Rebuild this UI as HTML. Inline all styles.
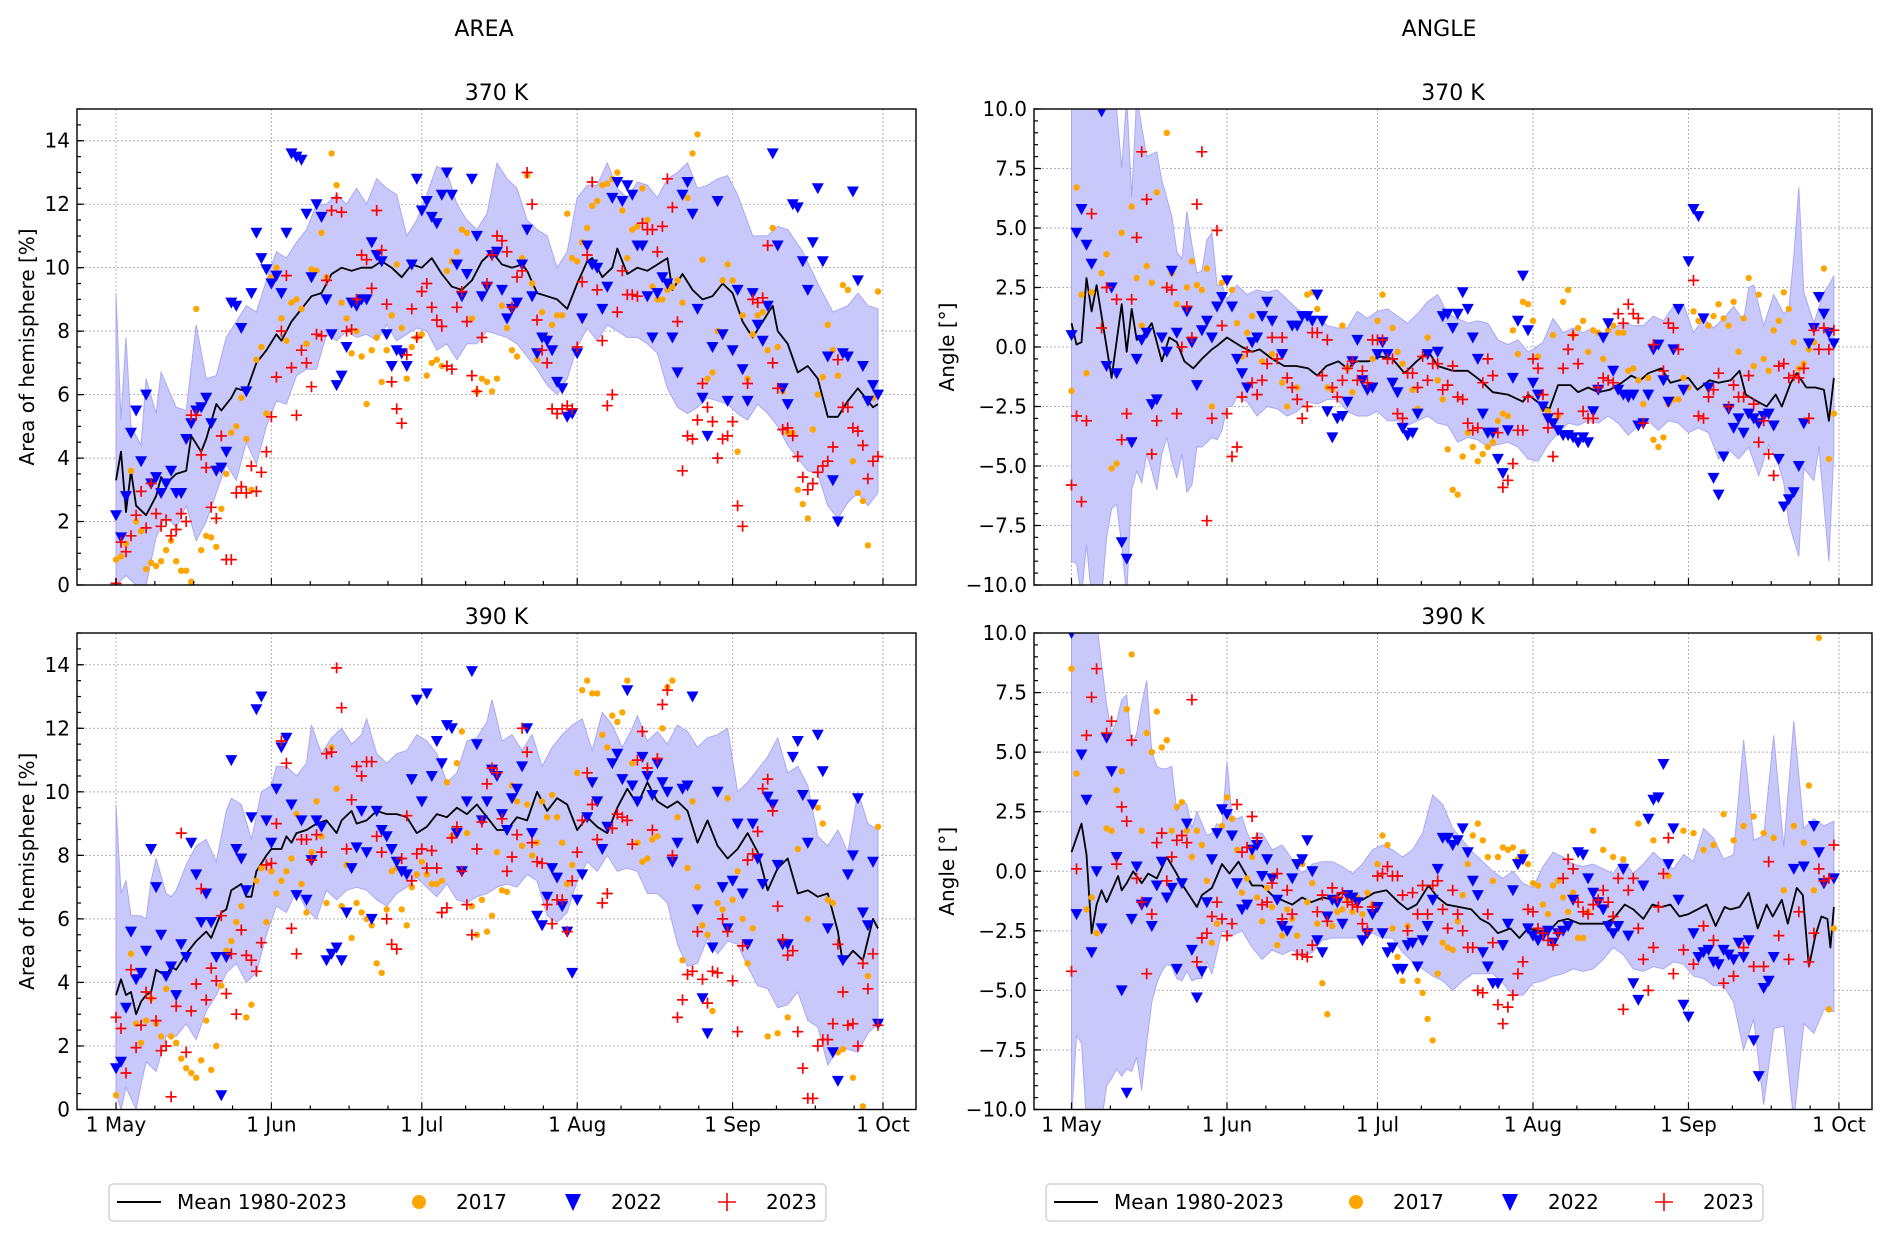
<!DOCTYPE html>
<html><head><meta charset="utf-8">
<style>
html,body{margin:0;padding:0;background:#fff;}
svg{display:block;font-family:"DejaVu Sans","Liberation Sans",sans-serif;}
</style></head>
<body>
<svg id="chart" width="1892" height="1241" viewBox="0 0 1892 1241" xmlns="http://www.w3.org/2000/svg">
<rect width="1892" height="1241" fill="#fff"/>
<text x="484" y="36" font-size="22" text-anchor="middle">AREA</text>
<text x="1439" y="36" font-size="22" text-anchor="middle">ANGLE</text>
<g id="panels"></g>
<g>
<rect x="109" y="1184" width="717" height="37" rx="4" fill="#fff" stroke="#ccc" stroke-width="1.3"/>
<line x1="117" y1="1202" x2="161" y2="1202" stroke="#000" stroke-width="2"/>
<text x="177" y="1209" font-size="20">Mean 1980-2023</text>
<circle cx="419" cy="1202" r="7" fill="#ffa500"/>
<text x="456" y="1209" font-size="20">2017</text>
<path d="M565,1194 L581,1194 L573,1211 Z" fill="#0000ff"/>
<text x="611" y="1209" font-size="20">2022</text>
<path d="M718,1202 h18 M727,1193 v18" stroke="#ff0000" stroke-width="1.6"/>
<text x="766" y="1209" font-size="20">2023</text>
</g>
<g>
<rect x="1046" y="1184" width="717" height="37" rx="4" fill="#fff" stroke="#ccc" stroke-width="1.3"/>
<line x1="1054" y1="1202" x2="1098" y2="1202" stroke="#000" stroke-width="2"/>
<text x="1114" y="1209" font-size="20">Mean 1980-2023</text>
<circle cx="1356" cy="1202" r="7" fill="#ffa500"/>
<text x="1393" y="1209" font-size="20">2017</text>
<path d="M1502,1194 L1518,1194 L1510,1211 Z" fill="#0000ff"/>
<text x="1548" y="1209" font-size="20">2022</text>
<path d="M1655,1202 h18 M1664,1193 v18" stroke="#ff0000" stroke-width="1.6"/>
<text x="1703" y="1209" font-size="20">2023</text>
</g>
</svg>
<script>
// ---------- shared axis data ----------
const monthDays = [0, 31, 61, 92, 123, 153];
const monthLabels = ["1 May", "1 Jun", "1 Jul", "1 Aug", "1 Sep", "1 Oct"];
const areaTicks = [0, 2, 4, 6, 8, 10, 12, 14];
const angleTicks = [-10, -7.5, -5, -2.5, 0, 2.5, 5, 7.5, 10];

// ---------- Top-left: AREA 370 K ----------
const tlUpper = [[0,9.2],[1,5.2],[2,7.8],[3,5],[5,4.4],[6,6.5],[8,5.4],[9,6.7],[12,5.6],[14,5.5],[16,8.2],[18,6.5],[20,6.6],[22,7.8],[24,8.3],[26,8.8],[28,8.6],[30,9.6],[32,10.5],[34,10.3],[36,10.8],[38,11.2],[40,12],[42,12],[44,12.3],[46,12],[48,12.5],[50,12],[52,12.8],[54,12.5],[56,12.3],[58,11],[60,11.5],[62,12.3],[64,13.2],[66,13],[68,12],[70,11.5],[72,11.2],[74,11.7],[76,13.3],[78,12.8],[80,12.5],[82,11.5],[84,11.2],[86,11],[88,10],[90,10.5],[92,12.2],[94,12.6],[96,12.6],[98,13.3],[100,12.5],[102,12.2],[104,12.7],[106,12.6],[108,12.2],[110,12.8],[112,13],[114,13.3],[116,12.5],[118,12.6],[120,12.8],[122,12.9],[124,12.3],[127,11],[130,11],[132,11.3],[134,11.2],[137,10.5],[140,9.5],[143,8.6],[146,8.8],[148,9.2],[150,8.8],[152,8.7]];
const tlLower = [[0,0],[2,0.3],[4,0],[6,0],[8,1.5],[10,2.2],[12,1.8],[14,2.5],[16,1.4],[18,2],[20,2.9],[22,3.8],[24,3.3],[26,4.5],[28,3.8],[30,5],[32,5.8],[34,5.7],[36,6.6],[38,6.8],[40,6.8],[42,7.9],[44,7.7],[46,8],[48,7.8],[50,7.9],[52,7.7],[54,8.2],[56,7.7],[58,7.9],[60,8.1],[62,8],[64,7.4],[66,7.6],[68,7.1],[70,7.6],[72,7.6],[74,8],[76,7.9],[78,7.8],[80,7.6],[82,7.2],[84,6.8],[86,6.3],[88,6],[90,6.5],[92,7.5],[94,8.1],[96,7.7],[98,8.2],[100,8],[102,7.8],[104,7.8],[106,7.6],[108,7.3],[110,6.2],[112,5.6],[114,5.4],[116,5.6],[118,5.9],[120,5.8],[122,5.7],[124,5.4],[126,5.2],[128,5.7],[130,5.4],[132,5],[134,4.4],[136,4],[138,3.6],[140,3.5],[142,2.5],[144,2.1],[146,2.6],[148,2.9],[150,2.5],[152,2.9]];
const tlMean = [[0,3.3],[1,4.2],[2,2.3],[3,3.6],[4,2.5],[6,2.2],[8,2.8],[9,3.4],[10,3.2],[12,3.5],[14,3.6],[15,4.7],[17,4.2],[18,4.6],[20,5.7],[21,5.5],[23,5.9],[24,6.2],[26,6.1],[28,7],[30,7.4],[32,7.9],[33,7.7],[35,8.3],[37,8.7],[39,9.1],[41,9.2],[43,9.8],[45,10],[47,9.9],[49,10],[51,10],[53,10.2],[55,10],[57,9.7],[59,10.1],[61,10],[63,10.3],[65,9.8],[67,9.4],[69,9.3],[71,9.6],[73,10.2],[75,10.5],[77,10.1],[79,10],[81,10.1],[82,9.9],[84,9.2],[86,9.1],[88,9],[90,8.7],[92,9.5],[94,10.2],[95,10.3],[97,9.7],[99,10],[100,10.6],[102,9.8],[104,10],[106,9.9],[108,10.1],[110,10.3],[111,9.3],[113,9.8],[115,9.3],[117,9],[119,9.1],[121,9.5],[123,9.2],[125,8.3],[127,7.8],[129,8.3],[131,8.8],[132,8],[134,7.6],[136,6.7],[138,6.9],[140,6.5],[142,5.3],[144,5.3],[146,5.8],[148,6.2],[149,6],[150,5.8],[151,5.6],[152,5.7]];
const tl2017 = [0.8,0.9,1.3,3.6,2,1.7,0.5,0.7,0.6,0.75,1.1,1.4,0.75,0.45,0.45,0.1,8.7,1.1,1.55,1.5,1.2,2.4,3.5,4.8,5,5.9,4.6,3,7.1,7.5,5.4,9.7,10,8.4,7.7,8.9,9,8.7,7.6,9.95,9.9,11.1,9.7,13.6,12.6,8.9,8.4,7.3,8,7.2,5.7,7.4,7.8,6.4,7.4,8.5,10.1,8.1,6.5,7.5,7.8,7.9,6.6,7,7.1,6.9,9.9,10.2,10.5,11.2,11.1,8.4,6.1,6.5,6.4,6.1,6.5,8.8,8.1,7.4,7.2,10.3,12.9,9.5,7.1,8.6,7.8,8.2,8.5,8.5,11.7,10.3,10.2,10.8,11.25,11.95,12.1,12.6,12.65,12.8,13,11.8,10.3,11.2,11.3,12.5,11.5,9.4,9,9,9.3,9.4,9.6,8.9,12.2,13.6,14.2,10.25,6.5,6.7,8,9.6,10.1,9.6,4.2,8.5,6.5,7.9,8.5,8.6,7.4,11.25,7.5,6.1,4.8,4.8,3,2.55,2.1,4.9,6,6.55,8.2,7.4,6.6,9.45,9.3,3.9,2.9,2.65,1.25,5.9,9.25];
const tl2022 = [2.2,1.5,2.8,4.8,5.5,3.9,6,3.2,3.4,2.9,3.2,3.6,2.9,2.9,4.6,5.1,5.5,5.6,5.9,5.1,3.6,3.7,4.2,8.9,8.8,8.1,6.1,9.2,11.1,10.3,9.95,9.5,9.75,9.2,11.1,13.6,13.5,13.4,11.7,9.7,12,11.6,9,7.9,6.3,6.6,7.5,8.9,8.8,9,9,10.8,10.4,10.2,7.9,6.9,7.4,7.3,6.9,10.1,12.8,11.8,12.1,11.6,11.4,12.3,13,12.3,10.1,9.1,9.8,12.8,11,9.1,9.4,10.4,10.5,9.3,8.4,8.7,8.9,10.1,11.2,9.1,7.3,7.8,7.7,7.4,6.4,6.2,5.3,5.4,7.3,8.4,10.7,10.1,10,8.7,9.4,12.2,12.7,12.1,12.6,12.3,10.7,10.7,9.1,7.8,9.2,9.7,9.5,7.8,6.7,12.3,12.7,11.7,8.7,5.9,4.7,7.5,12.1,7.9,5.8,7.4,9.3,6.8,5.8,9.2,8.2,7.7,8.8,13.6,10.7,6.2,5.7,12,11.9,10.2,9.3,10.8,12.5,10.2,7.2,3.3,2,7.3,7.2,12.4,9.6,6.9,5.8,6.3,6];
const tl2023 = [0.05,1.35,1.05,1.55,2.2,2.95,1.8,3.2,2.25,1.85,2.05,1.55,1.75,2.25,2,5.35,5.35,4.1,3.7,2.45,2.1,4.7,0.8,0.8,2.9,3.1,2.9,3.75,2.95,3.55,4.2,5.3,6.55,8,9.75,6.85,5.35,7.4,7,6.25,7.9,7.85,9.6,11.8,12.2,11.75,8,8.05,9,10.4,10.25,9.35,11.8,10.55,8.85,6.4,5.55,5.1,7.25,8.7,7.8,9.25,9.5,8.75,8.35,8.15,6.9,6.8,8.75,9.25,8.3,6.6,6.1,7.8,9.5,10.4,11,10.85,10.5,8.75,9.7,9.9,13,12,8.35,7.4,7,5.55,5.4,5.55,5.65,5.55,7.5,9.55,10.4,12.7,9.3,7.7,5.65,6,8.6,9.9,9.15,9.15,9.1,11.4,11.2,11.2,10.5,11.3,12.8,11.9,8.3,3.6,4.7,4.6,5.2,6.35,5.6,5.15,4,4.6,4.7,5.15,2.5,1.85,6.35,9,8.9,9.05,10.7,7,6.2,4.9,4.95,4.7,4.05,3.4,3,3.2,3.55,3.75,3.9,4.35,7.1,5.6,5.6,4.95,4.85,4.4,3.35,3.9,4.05];

// ---------- Bottom-left: AREA 390 K ----------
const blUpper = [[0,9.6],[1,6.8],[2,7.2],[3,6.1],[5,6.1],[6,6],[7,7.2],[8,7.9],[10,6.8],[11,6.7],[12,6.9],[14,7.7],[16,8.3],[18,8.5],[20,7.8],[22,9.4],[23,9.8],[25,9.6],[27,8.5],[29,10],[31,10.2],[32,10.8],[34,10.8],[36,10.5],[38,10.9],[39,12.1],[41,11.2],[43,11.7],[45,12],[47,11.5],[49,11.8],[50,12.3],[52,11.2],[54,10.9],[56,11.2],[58,11.3],[60,11.8],[62,11.6],[64,11.2],[66,10.3],[68,10.6],[70,11.6],[72,11.7],[74,12.2],[75,12.9],[77,11.6],[79,11.8],[81,11.3],[83,11.8],[85,10.8],[87,11.4],[89,11.8],[91,12.1],[93,12.3],[95,11.3],[97,12.5],[99,12.1],[101,11.4],[103,12],[104,12.4],[106,11.6],[108,11.9],[110,11.5],[112,12.1],[114,11.9],[116,11.4],[118,11.7],[120,11.8],[122,12],[124,10],[126,10.3],[128,10.7],[130,11.1],[132,11.7],[134,10.6],[136,10.8],[138,10.2],[140,8.6],[142,8.3],[144,8.8],[146,8.1],[148,10],[150,9],[152,8.8]];
const blLower = [[0,0.5],[1,0],[2,0.7],[4,0],[5,0.8],[6,1.5],[8,1.2],[10,2.3],[12,2.3],[14,2.7],[16,2.2],[18,3.1],[20,3.6],[22,4.3],[24,4.6],[26,4],[28,4.3],[30,5.5],[32,6.4],[34,6.2],[36,6.9],[38,6.3],[40,6],[42,6.9],[44,6.6],[46,6.9],[48,7],[50,6.9],[52,6.6],[54,6.4],[56,6.8],[58,7],[60,7.3],[62,7],[64,6.7],[66,7.1],[68,6.6],[70,6.5],[72,6.7],[74,6.8],[76,7],[78,7.1],[80,7],[82,7.4],[84,7.2],[86,6.1],[88,5.9],[90,6.2],[92,7.2],[94,7.8],[96,7.5],[98,8],[100,7.5],[102,7.6],[104,7.5],[106,6.8],[108,6.8],[110,6.5],[112,5.2],[114,4.5],[116,4.6],[118,5.4],[120,4.9],[122,5.3],[124,5.2],[126,4.5],[128,3.9],[130,3.8],[132,3.2],[134,3.3],[136,3.7],[138,2.8],[140,2.6],[142,1.4],[144,1.9],[146,1.9],[148,1.8],[150,2.4],[152,2.7]];
const blMean = [[0,3.6],[1,4.1],[2,3.6],[3,3.7],[4,3],[5,3.4],[6,3.6],[7,3.7],[8,4.4],[9,4.3],[10,4.2],[11,4.5],[12,4.4],[14,4.9],[16,5.3],[18,5.6],[19,5.4],[21,6.2],[22,6.3],[23,6.9],[25,7.1],[26,6.7],[27,6.7],[28,7.5],[30,8],[31,8.2],[33,8.2],[34,8.6],[35,8.4],[36,8.7],[38,8.8],[40,9],[42,9.1],[44,8.7],[45,9.1],[47,9.4],[48,9],[50,9.1],[52,9.4],[54,9.3],[56,9.3],[58,9.2],[60,8.7],[62,8.9],[64,9.3],[66,9.2],[68,9.5],[70,9.3],[72,9.6],[74,9.2],[76,8.8],[78,8.8],[80,9.2],[82,9.1],[84,10],[86,9.4],[88,9.8],[90,9.6],[92,8.8],[94,9.2],[96,8.9],[98,8.7],[100,9.5],[102,10.1],[104,9.6],[106,10.3],[108,9.7],[110,9.5],[112,9.7],[114,9.4],[116,8.4],[118,9.1],[120,8.3],[122,7.9],[124,8.2],[126,8.7],[128,8.1],[130,6.9],[132,7.6],[134,7.9],[136,6.8],[138,6.9],[140,6.7],[142,6.8],[144,5.6],[145,4.6],[147,5],[149,4.7],[151,6],[152,5.7]];
const bl2017 = [[0,0.45],[1,1.5],[3,4.9],[4,2.7],[5,2.1],[6,2.8],[7,3.5],[8,2.7],[9,2.3],[10,3.8],[11,2.3],[12,2.1],[13,1.6],[14,1.3],[15,1.15],[16,1],[17,1.55],[18,2.8],[19,1.25],[20,2],[21,3.9],[22,5],[23,5.3],[24,5.9],[25,6.4],[26,2.9],[27,3.3],[28,7.2],[29,7.6],[30,5.9],[31,7.5],[32,6.8],[33,7.2],[34,7.5],[35,7.9],[36,9.3],[37,7.1],[38,6.2],[39,8.1],[40,9.7],[41,8.6],[42,6.5],[43,11.4],[44,10.1],[45,6.4],[46,7.7],[47,5.4],[48,6.5],[49,6.2],[50,6],[51,5.8],[52,4.6],[53,4.3],[54,6.3],[55,7.5],[56,7.6],[57,6.3],[58,5.8],[59,7],[60,7.4],[61,7.8],[62,7.4],[63,7.1],[64,7.1],[65,7.2],[66,10.3],[67,8.6],[68,10.9],[69,11.9],[70,8.7],[71,6.4],[72,5.5],[73,6.6],[74,5.6],[75,6.1],[76,8.1],[77,6.9],[78,6.85],[79,10.2],[80,9.7],[81,8.3],[82,9.6],[83,8],[84,8.4],[85,9.7],[86,9.2],[87,9.9],[88,9.2],[89,8.4],[90,7.1],[91,7.7],[92,10.6],[93,13.2],[94,13.5],[95,13.1],[96,13.1],[97,11.8],[98,11.4],[99,12.4],[100,12.2],[101,12.5],[102,13.5],[103,10.9],[104,8.4],[105,7.8],[106,7.9],[107,8.5],[108,8.6],[109,12],[110,13.3],[111,13.5],[112,9.2],[113,4.7],[114,7.6],[115,9.7],[116,7],[117,5.8],[118,5.5],[119,3.1],[120,6.5],[121,6.3],[122,9.8],[123,6.6],[124,7.5],[125,6],[126,4.6],[127,5.7],[130,2.3],[132,2.4],[134,2.9],[136,8.2],[138,6],[140,9.5],[141,9],[142,6.6],[143,6.5],[144,1.8],[145,1.9],[147,1],[149,0.1],[150,4.2],[152,8.9]];
const bl2022 = [1.3,1.5,3.2,5.6,4.1,4.3,5,8.2,7,5.5,4.2,4.5,3.6,5.2,4.8,8.4,7.4,5.9,6.8,5.9,4.8,0.45,4.8,11,8.2,7.9,6.9,9.2,12.6,13,9.1,8.4,10.1,11.4,11.7,9.6,6.75,9.1,6.6,7.85,9.1,8.9,4.7,4.9,5.1,4.7,6.2,7.6,8.25,9.4,8.1,6,9.4,8.8,8.6,8.2,7.8,7.5,7.4,10.4,12.9,9.7,13.1,10.5,11.6,10.9,12.1,12,8.7,7.5,9.7,13.8,11.5,9.1,9.7,10.7,10.5,9.3,8.8,9.8,10.1,10.8,12,8.7,6.1,5.8,6.7,7.6,7.3,6.4,5.6,4.3,6.6,7.4,9.2,10.3,9.7,8.2,8.9,10.9,11.2,10.4,13.2,10.2,9.7,11.1,10.5,9.9,10.9,10.3,10,7.8,8.4,10.1,10.2,13,6.3,3.5,2.4,5.1,10,7,5.7,7.2,9,6.8,5.2,9,7.9,7.1,9.85,9.6,7.7,5.2,5.2,11.1,11.6,9.9,8.4,9.6,11.8,10.65,5.7,1.8,0.9,4.7,7.4,8,9.8,6.2,5.8,7.8,2.7];
const bl2023 = [2.9,2.55,1.15,4.4,1.95,2.65,3.7,3.5,2.8,1.85,2,0.4,3.25,8.7,1.8,3.1,3.95,6.95,3.45,4.45,4.05,6.1,3.65,4.9,3,5.65,4.85,4.7,4.35,5.25,7.7,7.75,9,11.6,10.9,5.7,4.9,8.5,8.5,7.85,8.65,8.1,11.2,11.25,13.9,12.65,8.2,9.75,10.8,10.5,10.95,10.95,8.6,8.1,6,5.2,5.05,7.9,9.25,7.2,8.05,8.2,7.6,8.15,7.6,6.2,6.35,8.55,8.9,7.5,6.45,5.5,8.2,9.05,10.25,10.75,10.6,9.15,7.5,7.95,8.65,12,11.25,8.4,7.8,7.75,6.45,5.85,6.6,6.6,5.6,7.2,8.1,9.1,10.6,9.6,8.5,6.5,6.8,8.85,9.3,9.2,9.1,8.35,11,11.9,10.75,8.8,11.05,12.75,13.2,8,2.9,3.45,4.25,4.35,5.6,4.1,3.35,4.35,4.3,6,5.6,4.05,2.45,5.15,7.85,8.05,8.75,10.1,10.4,9.4,6.4,5.35,4.85,5,2.45,1.3,0.35,0.35,2,2.2,2.2,2.7,5.2,3.7,2.65,2.7,2,4.6,3.8,4.9,2.65];

// ---------- Top-right: ANGLE 370 K ----------
const trUpper = [[0,11],[2,10.5],[5,10.5],[7,10.5],[8,10.3],[9,10],[10,7.5],[11,10.5],[12,6.3],[13,10.5],[15,8],[17,8.2],[18,7],[20,5.5],[21,4],[22,3.7],[23,5.7],[24,4.3],[25,3.1],[26,3.2],[27,4.5],[28,4.8],[29,2.6],[30,2.6],[31,2],[32,2.3],[33,2.6],[35,2.2],[37,2.4],[39,2.3],[41,2.4],[43,2],[45,1.6],[47,1.3],[49,1.3],[51,0.9],[53,0.8],[55,0.8],[57,1.5],[59,1.2],[61,1.5],[63,1.6],[65,1.3],[67,1.0],[69,1.4],[71,1.9],[73,2.2],[75,1.4],[77,1.2],[79,1],[81,1.1],[83,1],[85,0.3],[87,0.1],[89,0.3],[91,-0.2],[92,-0.1],[94,0.2],[96,1.2],[98,0.6],[100,0.8],[102,0.6],[104,0.8],[106,0.4],[108,0.8],[110,1],[112,0.9],[114,0.9],[116,1.3],[118,1.1],[120,1.7],[122,1.8],[124,0.6],[126,1.2],[128,0.8],[130,1.2],[132,1.7],[134,1.1],[135,2.5],[136,2.6],[138,0.9],[140,2.2],[142,1.4],[143,1.6],[144,3.8],[145,6.7],[146,2.3],[148,1],[150,2.3],[151,2.6],[152,3]];
const trLower = [[0,-9],[1,-9.1],[2,-10.5],[3,-8.3],[4,-10.5],[6,-10.5],[7,-8],[8,-6.8],[9,-6.6],[10,-8.3],[11,-10.5],[12,-6],[13,-5.2],[14,-5.7],[15,-4.5],[16,-5.2],[17,-6],[18,-4.5],[19,-3.8],[20,-4.8],[21,-5.5],[22,-4.5],[23,-6.1],[24,-5.8],[25,-4.2],[26,-4.2],[28,-3.8],[29,-3.9],[30,-3.5],[31,-2.5],[32,-2.5],[33,-2.1],[35,-2.3],[37,-2.9],[39,-2.5],[41,-2.6],[43,-2.9],[45,-2.7],[47,-2.3],[49,-2.4],[51,-2.2],[53,-2.2],[55,-2.7],[57,-2.9],[59,-2.9],[61,-2.7],[63,-3.1],[65,-3.1],[67,-3.3],[69,-3.1],[71,-2.9],[73,-3.2],[75,-3.3],[77,-4],[79,-3.8],[81,-3.9],[83,-4.2],[85,-4.1],[87,-4],[89,-4.2],[91,-4.7],[93,-4.8],[95,-4.1],[97,-3.6],[99,-3.2],[101,-3.3],[103,-3.1],[105,-3.2],[107,-2.9],[109,-3.2],[111,-3.7],[113,-3.3],[115,-3.1],[117,-3.5],[119,-3.1],[121,-3.2],[123,-3.6],[125,-3.4],[127,-3.6],[129,-4.7],[131,-4.3],[133,-4.7],[135,-4.2],[137,-5.4],[139,-4.1],[141,-5],[142,-5.7],[143,-7.4],[145,-8.8],[146,-5.1],[148,-5.6],[149,-4.2],[151,-9],[152,-4.3]];
const trMean = [[0,1.0],[1,0.1],[2,0.2],[3,2.9],[4,1.5],[5,2.6],[8,-1.3],[10,1.8],[11,-0.2],[12,1.6],[13,0.3],[14,0.4],[16,1.0],[18,-0.6],[19.5,0.4],[21,0.2],[22.5,-0.6],[24.3,-0.9],[26,-0.5],[28,-0.1],[29,0.05],[31,0.4],[34,0.0],[36,-0.2],[37.5,-0.1],[40,-0.5],[42.4,-0.8],[44.8,-0.8],[47.2,-0.9],[49,-1.2],[50.8,-0.8],[53.2,-0.6],[55,-0.9],[56.8,-0.6],[59.2,-0.6],[61.6,-0.4],[64,-0.5],[66.4,-1.1],[68.8,-0.6],[71.2,-0.2],[73,-0.8],[76,-1.0],[79,-1.0],[81.5,-1.4],[84,-1.9],[87,-2.0],[90,-2.3],[91,-2.0],[93.5,-2.4],[95.3,-2.6],[97,-1.6],[99.5,-1.6],[101,-1.9],[103,-1.7],[105,-1.9],[107.3,-1.8],[109.7,-1.5],[111.6,-1.2],[113.4,-1.4],[115,-1.1],[117.6,-0.9],[119.4,-1.5],[121.2,-1.4],[123,-1.3],[124.8,-1.8],[127.2,-1.4],[129,-1.5],[131.4,-1.4],[133.2,-1.0],[134.4,-2.0],[136.8,-2.3],[138.6,-2.5],[140.4,-2.0],[141.6,-2.5],[143.4,-1.5],[144.6,-1.1],[146.5,-1.7],[148.3,-1.7],[150,-1.8],[151,-3.1],[152,-1.3]];
const tr2017 = [[0,-1.85],[1,6.7],[2,2.2],[3,-1.1],[4,2.3],[6,3.1],[7,3.9],[8,-5.1],[9,-4.9],[10,4.8],[12,5.9],[13,2.9],[14,0.9],[15,3.4],[16,2.7],[17,6.5],[19,9],[20,3.1],[21,1.8],[23,2.5],[24,3.6],[25,2.6],[26,2.4],[27,3.3],[28,-2.5],[30,2.7],[31,2.9],[32,2.4],[33,1],[34,-0.4],[35,0.6],[36,1.3],[38,-0.6],[40,-0.3],[42,-1.5],[43,-2.5],[45,-1.7],[47,2.2],[48,2.3],[49,1.6],[51,-1.7],[52,-1.8],[54,0.9],[55,-0.9],[56,-1.9],[58,-1.4],[60,-0.5],[61,1.1],[62,2.2],[64,0.8],[65,-0.2],[66,-0.7],[68,-1.8],[69,-2.6],[71,0.4],[73,-1.4],[74,-2.2],[75,-4.3],[76,-6],[77,-6.2],[78,-4.6],[79,-3.6],[80,-4.2],[81,-4.8],[82,-4.5],[83,-4.2],[84,-4],[85,-3.1],[86,-2.8],[87,-2.9],[88,0.7],[89,-0.3],[90,1.9],[91,1.8],[92,1.1],[93,-0.4],[94,-2.6],[95,-2.7],[96,0.5],[97,-2.9],[98,1.9],[99,2.4],[100,0.5],[101,0.8],[102,1.1],[103,-0.2],[104,0.7],[105,0.6],[106,-0.5],[107,0.7],[108,0.9],[109,0.6],[110,0.6],[111,-1],[112,-0.9],[113,-1.4],[114,-2.4],[115,-1.3],[116,-3.9],[117,-4.2],[118,-3.8],[119,-2.4],[120,-2.2],[121,-2.2],[122,-1.3],[123,-1.7],[124,1.5],[125,1.1],[126,1.2],[127,0.9],[128,1.3],[129,1.8],[130,1.2],[131,0.9],[132,1.9],[133,-0.2],[134,1.2],[135,2.9],[136,-0.8],[137,2.2],[138,-0.5],[139,-1],[140,0.7],[141,1.1],[142,2.3],[143,1.6],[144,0.2],[145,-0.9],[146,-0.7],[147,-0.1],[148,0.2],[149,2.2],[150,3.3],[151,-4.7],[152,-2.8]];
const tr2022 = [[0,0.5],[1,4.8],[2,5.8],[3,4.3],[4,3.5],[6,9.9],[7,-0.8],[8,2.5],[9,-1.1],[10,-8.2],[11,-8.9],[12,-4],[13,-0.5],[14,0.3],[15,0.6],[16,-2.4],[17,-2.2],[18,0.4],[19,-0.2],[20,3.2],[21,0.6],[23,1.5],[24,0.2],[25,-1.6],[26,0.7],[27,1.1],[28,0.4],[29,1.7],[30,2.1],[31,2.8],[32,1.7],[33,-0.5],[34,-1.1],[35,-1.7],[36,0.2],[37,0.4],[38,1.3],[39,1.9],[40,1.1],[42,-0.3],[44,0.9],[45,0.9],[46,1.3],[47,1.3],[48,1.1],[49,2.2],[50,1.1],[51,-2.7],[52,-3.8],[53,-3],[54,-2.9],[55,-2.3],[56,-0.6],[57,0.3],[58,-1.4],[59,-1.8],[60,-1.7],[61,-0.3],[62,0.2],[63,-0.3],[64,-1.5],[65,-1.9],[66,-3.4],[67,-3.7],[68,-3.6],[69,-2.8],[71,-0.3],[73,-0.2],[74,1.3],[75,1.4],[76,0.8],[77,1.4],[78,2.3],[79,1.6],[80,0.4],[81,-0.5],[82,-2.8],[83,-3.6],[84,-3.6],[85,-4.7],[86,-5.3],[87,-3.5],[88,-1.3],[89,1.1],[90,3],[91,0.7],[92,-1.5],[93,-2.0],[94,-2.5],[95,-3],[96,-3.2],[97,-3.5],[98,-3.7],[99,-3.7],[100,-3.8],[101,-4],[102,-3.8],[103,-4],[104,-2.7],[105,-1.8],[106,0.4],[107,1],[108,-1],[109,-1.8],[110,-2],[111,-2.1],[112,-2],[113,-3.3],[114,-3.2],[115,-2],[116,-0.1],[117,0.1],[118,-1.4],[119,-2.3],[120,-0.1],[121,1.6],[122,-1.8],[123,3.6],[124,5.8],[125,5.5],[126,1.2],[127,-1.7],[128,-5.5],[129,-6.2],[130,-4.6],[131,-2.6],[132,-3.4],[133,-3],[134,-3.6],[135,-2.8],[136,-3],[137,-3.2],[138,-2.9],[139,-2.8],[140,-3.3],[141,-4.7],[142,-6.7],[143,-6.4],[144,-6.1],[145,-5],[146,-3.2],[147,0.15],[148,0.8],[149,2.1],[150,1.4],[151,0.6],[152,0.15]];
const tr2023 = [[0,-5.8],[1,-2.9],[2,-6.5],[3,-3.1],[4,5.6],[6,0.8],[7,2.5],[9,2],[10,-3.9],[11,-2.8],[12,2],[13,4.6],[14,8.2],[15,6.2],[16,-4.5],[17,-3.1],[19,2.5],[20,2.4],[21,-2.8],[22,0],[23,1.7],[24,0.4],[25,6],[26,8.2],[27,-7.3],[28,-3],[29,4.9],[30,0.9],[31,-2.8],[32,-4.6],[33,-4.2],[34,-2.1],[35,-0.2],[36,-1.5],[37,-2],[38,-1.4],[39,-0.7],[40,0.4],[41,-0.5],[42,0.4],[43,-1.3],[44,-1.7],[45,-2.2],[46,-3],[47,-2.5],[48,0.6],[49,0.6],[50,-1.2],[51,0.3],[52,-1.7],[53,-2.1],[54,-1.4],[55,-0.9],[56,-0.6],[57,-1.4],[58,-1],[59,-1.5],[60,0.3],[61,0.3],[62,0.3],[63,-0.5],[64,-0.5],[65,-2.8],[66,-3],[67,-1.1],[68,-1.1],[69,-1.7],[70,-0.4],[71,-1.4],[72,-0.7],[73,-0.7],[74,-1.8],[75,-1.6],[76,-0.8],[77,-2.1],[78,-2.2],[79,-3.2],[80,-3.5],[81,-3.4],[82,-1.5],[83,-0.5],[84,-1.2],[85,-3.6],[86,-5.9],[87,-5.6],[88,-4.9],[89,-3.5],[90,-3.5],[91,-2.1],[92,-0.5],[93,-0.9],[94,-2],[95,-3.4],[96,-4.6],[97,-2.8],[98,-0.9],[99,-0.1],[100,0.5],[101,-0.7],[102,-2.7],[103,-3],[104,-3],[105,-1.7],[106,-1.3],[107,-1.4],[108,-1.5],[109,1.4],[110,1],[111,1.8],[112,1.4],[113,1.2],[114,-3.2],[116,0.1],[118,-1],[119,1],[120,0.8],[121,-0.1],[124,2.8],[125,-2.9],[126,-3],[127,-2.1],[128,-1.8],[129,-1.1],[131,-2.5],[132,-1.6],[133,-2.1],[134,-2.1],[135,-1.2],[136,-2.4],[137,-4],[138,-3.1],[139,-4.5],[140,-5.4],[141,-0.8],[142,-0.7],[143,-1.3],[144,-1.2],[145,-1.3],[146,-0.9],[147,-3],[148,0.7],[149,-0.1],[150,0.8],[151,-0.1],[152,0.7]];

// ---------- Bottom-right: ANGLE 390 K ----------
const brUpper = [[0,10.5],[1,10.5],[3,10.5],[5,10.5],[6,8.7],[7,7],[8,5.8],[9,6.3],[10,7.2],[11,7.4],[12,5.2],[13,5.8],[14,7],[15,8],[16,5],[17,4.4],[18,4.3],[19,4.3],[20,4.4],[21,2.5],[22,3],[23,2.8],[24,1.8],[25,2.5],[27,1.5],[28,1.6],[29,2],[30,1.8],[31,4.6],[32,2.3],[33,2.2],[34,2.3],[35,1.6],[36,1.2],[37,1.6],[38,1.6],[40,0.9],[42,1.1],[44,0.5],[46,-0.1],[48,0.3],[50,0.4],[52,0.4],[54,0.2],[56,-0.1],[58,0.3],[60,0.9],[62,1.1],[64,0.9],[66,0.6],[68,0.9],[70,1.6],[72,3.2],[74,2.8],[76,1.8],[78,1.3],[80,0.8],[82,0.4],[84,0],[86,-0.3],[88,0.0],[90,-0.5],[92,-0.7],[94,0.2],[96,0.8],[98,0.6],[100,0.3],[102,0.2],[104,0.3],[106,0.1],[108,-0.1],[110,0.5],[112,-0.1],[114,0.3],[116,0.8],[118,0.4],[120,0.1],[122,0.7],[124,0.4],[126,1.8],[128,1.4],[130,0.5],[132,0.7],[134,5.5],[136,1.3],[138,1.5],[140,5.7],[142,1],[144,6.3],[146,1.8],[148,2.2],[150,1.9],[152,2.1]];
const brLower = [[0,-10.5],[1,-6.9],[2,-7.2],[3,-10.5],[4,-10.5],[6,-10.5],[7,-9],[8,-8.7],[9,-8.3],[10,-8.6],[11,-8.3],[12,-8.4],[13,-7.8],[14,-9.2],[15,-7.2],[16,-5.5],[17,-4.7],[18,-4.2],[19,-3.9],[20,-4],[21,-4.5],[22,-4.6],[23,-4.2],[24,-4.6],[25,-4.5],[26,-4.5],[27,-3.8],[28,-4.3],[29,-3.4],[30,-2.5],[32,-2.7],[34,-2.5],[36,-3.2],[38,-3.7],[40,-3.3],[42,-3.5],[44,-3.3],[46,-3.6],[48,-3.4],[50,-2.9],[52,-2.8],[54,-2.8],[56,-2.8],[58,-2.8],[60,-2.6],[62,-2.8],[64,-2.8],[66,-3.4],[68,-3.8],[70,-4.1],[72,-4.4],[74,-4.6],[76,-5],[78,-4.6],[80,-4.3],[82,-4.3],[84,-4.3],[86,-4.7],[88,-5.2],[90,-5.2],[92,-4.7],[94,-4.6],[96,-4.4],[98,-4.3],[100,-4.1],[102,-4.2],[104,-4.1],[106,-3.7],[108,-3.2],[110,-3.5],[112,-4.1],[114,-4.2],[116,-4],[118,-4.1],[120,-3.8],[122,-3.9],[124,-4.4],[126,-4.5],[128,-4.8],[130,-4.8],[132,-5.5],[134,-7.5],[136,-6.2],[138,-9.8],[140,-6.6],[142,-6.5],[144,-10.5],[146,-6.4],[148,-6.8],[150,-5.8],[152,-5.9]];
const brMean = [[0,0.8],[2,2.0],[3,0.7],[4,-2.6],[5,-1.4],[6,-0.8],[7,-1.3],[9.3,-0.2],[10,-0.8],[11,-0.5],[12.3,0],[14,-0.5],[15.3,-0.1],[17,-0.3],[19,0.6],[20.7,0],[22.5,-0.7],[25,-1.5],[26,-1.0],[28,-0.7],[30,0.3],[31.5,-0.1],[33.3,0.4],[36,-0.6],[38,-0.6],[40,-1.0],[41.8,-1.2],[44,-1.4],[46,-1.1],[47.8,-1.3],[50.2,-1.1],[52,-1.2],[53.8,-0.9],[55.6,-1.1],[58,-1.2],[60.4,-0.9],[62.8,-0.8],[65.2,-1.3],[67,-1.6],[68.8,-1.4],[71.2,-0.6],[73,-1.1],[74.8,-1.4],[77.3,-1.5],[79.7,-1.6],[81.5,-2.0],[83.3,-2.2],[85,-2.6],[87.5,-2.4],[89.3,-2.8],[91,-2.4],[92.9,-2.5],[95.3,-2.5],[97,-2.1],[99,-2.0],[101.3,-2.2],[103.7,-2.2],[106,-2.2],[108,-2.0],[110.3,-1.4],[112,-1.6],[114,-2.0],[115.8,-1.4],[117.6,-1.5],[119.4,-1.4],[121.2,-1.9],[123,-1.8],[124.8,-1.6],[126.6,-1.4],[128.4,-2.3],[130.2,-1.5],[131.4,-1.6],[133.2,-1.5],[135,-0.9],[136.8,-2.4],[138.6,-1.4],[139.8,-1.9],[141.6,-1.2],[142.8,-2.2],[144.6,-0.7],[145.8,-1.0],[147,-4.0],[148.3,-2.7],[149.5,-1.9],[150.7,-2.0],[151.3,-3.2],[152,-1.5]];
const br2017 = [[0,8.5],[1,4.1],[3,-1.6],[4,-1.1],[5,-2.6],[7,1.8],[8,1.7],[9,3.4],[10,4.2],[11,6.8],[12,9.1],[14,1.7],[15,5.8],[16,5],[17,6.7],[18,5.2],[19,5.5],[20,1.7],[21,2.7],[22,2.9],[23,1.7],[24,0.6],[25,1.7],[26,1.1],[27,-0.4],[28,-3],[29,-2.2],[30,1.9],[31,3.1],[32,2.2],[33,0.9],[34,-0.9],[35,-0.3],[36,0.6],[37,-1.1],[38,-2.1],[39,-0.7],[40,-1.5],[41,-3.1],[42,-2.7],[43,-1.6],[44,-2],[45,-2.7],[46,0.3],[47,-1.3],[48,-0.5],[49,-2.2],[50,-4.7],[51,-6],[52,-2.3],[53,-1.7],[54,-1.6],[55,-1.2],[56,-1.7],[57,-1.1],[58,-1.8],[59,-0.9],[60,-1.4],[61,0.3],[62,1.5],[63,1.1],[64,-2.4],[65,-3.6],[66,-4.6],[67,-2.3],[68,-2.9],[69,-4.6],[70,-5.1],[71,-6.2],[72,-7.1],[73,-4.3],[74,-3],[75,-3.2],[76,-3.3],[77,-2.1],[78,-1],[79,0.3],[80,1.5],[81,2],[82,1.3],[83,0.6],[84,-0.4],[85,0.6],[86,1],[87,0.9],[88,1],[89,0.5],[90,0.8],[91,0.3],[92,-0.5],[93,-0.6],[94,-1.4],[95,-1.8],[96,-0.6],[97,-0.4],[98,-1.1],[99,-1.7],[100,-0.9],[101,-2.8],[102,-2.8],[103,-1.7],[104,1.7],[106,0.9],[108,0.6],[110,0.5],[113,2],[116,1.3],[119,-0.2],[122,1.7],[124,1.6],[126,0.9],[128,1.1],[130,2.4],[132,1.3],[134,1.9],[136,2.3],[138,1.6],[140,1.4],[142,-0.8],[144,1.9],[146,1.2],[147,3.6],[148,-0.8],[149,9.8],[151,-5.8],[152,-2.4]];
const br2022 = [[0,10],[1,-1.8],[2,4.9],[3,3],[4,-3.4],[5,0],[6,-2.4],[7,5.6],[8,4.2],[9,0.6],[10,-5],[11,-9.3],[12,-2],[13,0.2],[14,-1.4],[15,-1.3],[16,-2.3],[17,-0.6],[18,0.4],[19,-1.1],[20,-0.7],[21,-4.1],[22,-0.5],[23,2],[24,-3.3],[25,-5.3],[26,-4.2],[27,-1.3],[28,0.5],[29,1.6],[30,2.6],[31,2.4],[32,1.5],[33,-0.5],[34,-1.6],[35,-1.4],[36,0.9],[37,1.1],[38,-0.2],[39,0.5],[40,-0.3],[41,-1.2],[42,-2.3],[43,-2.5],[44,-0.3],[45,0.3],[46,0.5],[47,1.3],[48,0],[49,-2.9],[50,-3.4],[51,-1.9],[52,-1.2],[53,-1.3],[54,-2.2],[55,-1],[56,-1.1],[57,-1.3],[58,-2.9],[59,-2.6],[60,-1.8],[61,-1.5],[62,-2.6],[63,-3.4],[64,-3.2],[65,-4.1],[66,-4.1],[67,-3.1],[68,-3],[69,-4],[70,-2.9],[71,-2.3],[72,-1.2],[73,0.1],[74,1.4],[75,1.4],[76,1.1],[77,1.3],[78,1.8],[79,0.8],[80,-0.4],[81,-1],[82,-3.4],[83,-4],[84,-4.7],[85,-4.7],[86,-3.1],[87,-2.2],[88,-0.8],[89,0.3],[90,0.5],[91,-2.4],[92,-2.7],[93,-2.9],[94,-2.7],[95,-2.5],[96,-3],[97,-2.6],[98,-2.5],[99,-2.3],[100,-1.2],[101,0.8],[102,0.7],[103,-0.3],[104,-0.9],[105,-1.3],[106,-1.6],[107,-2.3],[108,-2.6],[109,-2.3],[110,0.1],[111,-2.7],[112,-4.7],[113,-5.4],[114,-0.6],[115,2.2],[116,3],[117,3.1],[118,4.5],[119,0.3],[120,1.8],[121,-1.2],[122,-5.6],[123,-6.1],[124,-2.6],[125,-3.6],[126,-3.4],[127,-3.3],[128,-3.8],[129,-3.9],[130,-3.3],[131,-3.5],[132,-3.7],[133,-3],[134,-3.6],[135,-2.9],[136,-7.1],[137,-8.6],[138,-4.9],[139,-4.6],[140,-3.6],[144,0.1],[146,0.2],[148,1.9],[149,0.8],[150,-0.5],[152,-0.3]];
const br2023 = [[0,-4.2],[1,0.1],[3,5.7],[4,7.3],[5,8.5],[7,5.8],[8,6.3],[9,0.3],[10,2.7],[11,2.1],[12,5.5],[13,-0.3],[14,-1.3],[15,-4.3],[16,-1.8],[17,1.2],[18,1.6],[19,-0.4],[20,0.6],[21,1.3],[22,1.5],[23,1.2],[24,7.2],[25,-3.8],[26,-2.8],[27,-2.6],[28,-1.9],[29,-1.3],[30,-2],[31,-2.7],[32,-2.2],[33,2.8],[34,0.8],[35,1],[36,2.3],[37,1.4],[38,-1.4],[39,-1.3],[40,-0.5],[41,-0.1],[42,-2],[43,-0.8],[44,-1.8],[45,-3.5],[46,-3.5],[47,-3.6],[48,-3.1],[49,-1.7],[50,-1],[51,-2.1],[52,-0.7],[53,-1.1],[54,-0.9],[55,-1.3],[56,-1.4],[57,-1.5],[58,-2.2],[59,-2.5],[60,-1.5],[61,-0.2],[62,-0.1],[63,0.2],[64,-0.2],[65,-0.2],[66,-1],[67,-2.5],[68,-0.9],[69,-1.8],[70,-0.6],[71,-1.8],[72,-0.6],[73,-0.4],[74,-1.6],[75,-2.4],[76,-0.8],[77,-1.8],[78,-2.5],[79,-3.2],[80,-3.2],[81,-5],[82,-5.1],[83,-1.8],[84,-3],[85,-5.6],[86,-6.4],[87,-5.7],[88,-5.2],[89,-4.3],[90,-3.8],[91,-1.6],[92,-1.7],[93,-2.4],[94,-2.6],[95,-2.9],[96,-3.1],[97,-2.6],[98,-0.3],[99,0.5],[100,0.1],[101,-1.3],[102,-1.7],[103,-1.8],[104,-1.4],[105,-1.2],[106,-0.8],[107,-1.3],[108,-1.9],[109,-0.3],[110,-5.8],[111,-0.8],[112,-0.3],[113,-2.4],[114,-3.7],[115,-5],[116,-3.2],[117,-1.5],[118,-0.1],[119,1.4],[120,-4.3],[122,-3.3],[124,-3.9],[126,-2.3],[128,-2.9],[130,-4.7],[132,-4.4],[134,-3.2],[136,-4],[138,-4],[139,0.4],[141,-2.7],[143,-3.7],[145,-1.7],[147,-3.8],[148,-2.6],[149,0.1],[150,-0.4],[151,-0.3],[152,1.1]];

// ---------- rendering ----------
const NS = "http://www.w3.org/2000/svg";
function mk(tag, attrs, parent) {
  const e = document.createElementNS(NS, tag);
  for (const k in attrs) e.setAttribute(k, attrs[k]);
  if (parent) parent.appendChild(e);
  return e;
}
function toPairs(arr) {
  if (arr.length && Array.isArray(arr[0])) return arr;
  const out = [];
  arr.forEach((v, i) => { if (v !== null && v !== undefined) out.push([i, v]); });
  return out;
}
const root = document.getElementById("panels");

function drawPanel(p) {
  const g = mk("g", {}, root);
  
  
  const W = p.right - p.left, H = p.bottom - p.top;
  const xS = d => p.day0 + d * p.pxPerDay;
  const yS = v => p.bottom - (v - p.vmin) / (p.vmax - p.vmin) * H;
  const clipId = "clip-" + p.name;
  const defs = mk("defs", {}, g);
  const cp = mk("clipPath", { id: clipId }, defs);
  mk("rect", { x: p.left, y: p.top, width: W, height: H }, cp);

  // title
  const t = mk("text", { x: (p.left + p.right) / 2, y: p.top - 9, "font-size": 22, "text-anchor": "middle" }, g);
  
  
  t.textContent = p.title;

  // grid
  const grid = mk("g", { stroke: "#b0b0b0", "stroke-width": 1, "stroke-dasharray": "2,2" }, g);
  
  
  monthDays.forEach(d => mk("line", { x1: xS(d), x2: xS(d), y1: p.top, y2: p.bottom }, grid));
  p.ticks.forEach(v => { if (v > p.vmin && v < p.vmax) mk("line", { x1: p.left, x2: p.right, y1: yS(v), y2: yS(v) }, grid); });

  const plot = mk("g", { "clip-path": "url(#" + clipId + ")" }, g);
  // band
  const up = toPairs(p.upper), lo = toPairs(p.lower);
  let dstr = "M" + up.map(q => xS(q[0]).toFixed(1) + "," + yS(q[1]).toFixed(1)).join(" L");
  dstr += " L" + lo.slice().reverse().map(q => xS(q[0]).toFixed(1) + "," + yS(q[1]).toFixed(1)).join(" L") + " Z";
  const band = mk("path", { d: dstr, fill: "#c8c8fb", stroke: "#a9a9f3", "stroke-width": 1 }, plot);
  
  

  // mean line
  const mp = toPairs(p.mean);
  const ml = mk("polyline", { points: mp.map(q => xS(q[0]).toFixed(1) + "," + yS(q[1]).toFixed(1)).join(" "), fill: "none", stroke: "#000", "stroke-width": 1.8, "stroke-linejoin": "round" }, plot);
  
  

  // 2017
  const g17 = mk("g", { fill: "#ffa500" }, plot);
  
  
  toPairs(p.s2017).forEach(q => {
    const c = mk("circle", { cx: xS(q[0]).toFixed(1), cy: yS(q[1]).toFixed(1), r: 3.2 }, g17);
    
    
  });
  // 2022
  const g22 = mk("g", { fill: "#0000ff" }, plot);
  
  
  toPairs(p.s2022).forEach(q => {
    const x = xS(q[0]), y = yS(q[1]);
    const tri = mk("path", { d: `M${(x - 6).toFixed(1)},${(y - 5).toFixed(1)} L${(x + 6).toFixed(1)},${(y - 5).toFixed(1)} L${x.toFixed(1)},${(y + 6).toFixed(1)} Z` }, g22);
    
    
  });
  // 2023
  const g23 = mk("g", { stroke: "#ff0000", "stroke-width": 1.7, fill: "none" }, plot);
  
  
  toPairs(p.s2023).forEach(q => {
    const x = xS(q[0]), y = yS(q[1]);
    const pl = mk("path", { d: `M${(x - 5.5).toFixed(1)},${y.toFixed(1)} h11 M${x.toFixed(1)},${(y - 5.5).toFixed(1)} v11` }, g23);
    
    
  });

  // frame
  const fr = mk("rect", { x: p.left, y: p.top, width: W, height: H, fill: "none", stroke: "#000", "stroke-width": 1.4 }, g);
  
  

  // ticks
  const tk = mk("g", { stroke: "#000", "stroke-width": 1.2 }, g);
  
  
  monthDays.forEach(d => mk("line", { x1: xS(d), x2: xS(d), y1: p.bottom, y2: p.bottom - 7 }, tk));
  for (let d = 7.75; xS(d) < p.right; d += 7.75) {
    if (Math.abs((d / 7.75) % 4) < 1e-6) continue;
    mk("line", { x1: xS(d), x2: xS(d), y1: p.bottom, y2: p.bottom - 4 }, tk);
  }
  p.ticks.forEach(v => mk("line", { x1: p.left, x2: p.left + 7, y1: yS(v), y2: yS(v) }, tk));
  for (let v = p.vmin; v <= p.vmax + 1e-9; v += p.minor) mk("line", { x1: p.left, x2: p.left + 4, y1: yS(v), y2: yS(v) }, tk);

  // y tick labels
  const yl = mk("g", { "font-size": 20, "text-anchor": "end" }, g);
  
  
  p.ticks.forEach(v => {
    const tx = mk("text", { x: p.left - 7, y: yS(v) + 7 }, yl);
    tx.textContent = p.fmt(v);
  });
  // y axis title
  const cy = (p.top + p.bottom) / 2;
  const yt = mk("text", { x: p.ylabelX, y: cy, "font-size": 20, "text-anchor": "middle", transform: `rotate(-90 ${p.ylabelX} ${cy})` }, g);
  
  
  yt.textContent = p.ylabel;

  // x tick labels
  if (p.xlabels) {
    const xl = mk("g", { "font-size": 20, "text-anchor": "middle" }, g);
    
    
    monthDays.forEach((d, i) => {
      const tx = mk("text", { x: xS(d), y: p.bottom + 22 }, xl);
      tx.textContent = monthLabels[i];
    });
  }
}

const areaFmt = v => String(v);
const angleFmt = v => (v < 0 ? "\u2212" : "") + Math.abs(v).toFixed(1);
const L = { left: 77, right: 916, day0: 116, pxPerDay: 5.013 };
const R = { left: 1034, right: 1872, day0: 1071.5, pxPerDay: 5.016 };

drawPanel(Object.assign({ name: "panel-area-370k", title: "370 K", top: 109, bottom: 585, vmin: 0, vmax: 15, ticks: areaTicks, minor: 0.5, fmt: areaFmt, ylabel: "Area of hemisphere [%]", ylabelX: 34, xlabels: false, upper: tlUpper, lower: tlLower, mean: tlMean, s2017: tl2017, s2022: tl2022, s2023: tl2023 }, L));
drawPanel(Object.assign({ name: "panel-area-390k", title: "390 K", top: 633, bottom: 1109.5, vmin: 0, vmax: 15, ticks: areaTicks, minor: 0.5, fmt: areaFmt, ylabel: "Area of hemisphere [%]", ylabelX: 34, xlabels: true, upper: blUpper, lower: blLower, mean: blMean, s2017: bl2017, s2022: bl2022, s2023: bl2023 }, L));
drawPanel(Object.assign({ name: "panel-angle-370k", title: "370 K", top: 109, bottom: 585, vmin: -10, vmax: 10, ticks: angleTicks, minor: 0.5, fmt: angleFmt, ylabel: "Angle [\u00b0]", ylabelX: 954, xlabels: false, upper: trUpper, lower: trLower, mean: trMean, s2017: tr2017, s2022: tr2022, s2023: tr2023 }, R));
drawPanel(Object.assign({ name: "panel-angle-390k", title: "390 K", top: 633, bottom: 1109.5, vmin: -10, vmax: 10, ticks: angleTicks, minor: 0.5, fmt: angleFmt, ylabel: "Angle [\u00b0]", ylabelX: 954, xlabels: true, upper: brUpper, lower: brLower, mean: brMean, s2017: br2017, s2022: br2022, s2023: br2023 }, R));
</script>
</body></html>
